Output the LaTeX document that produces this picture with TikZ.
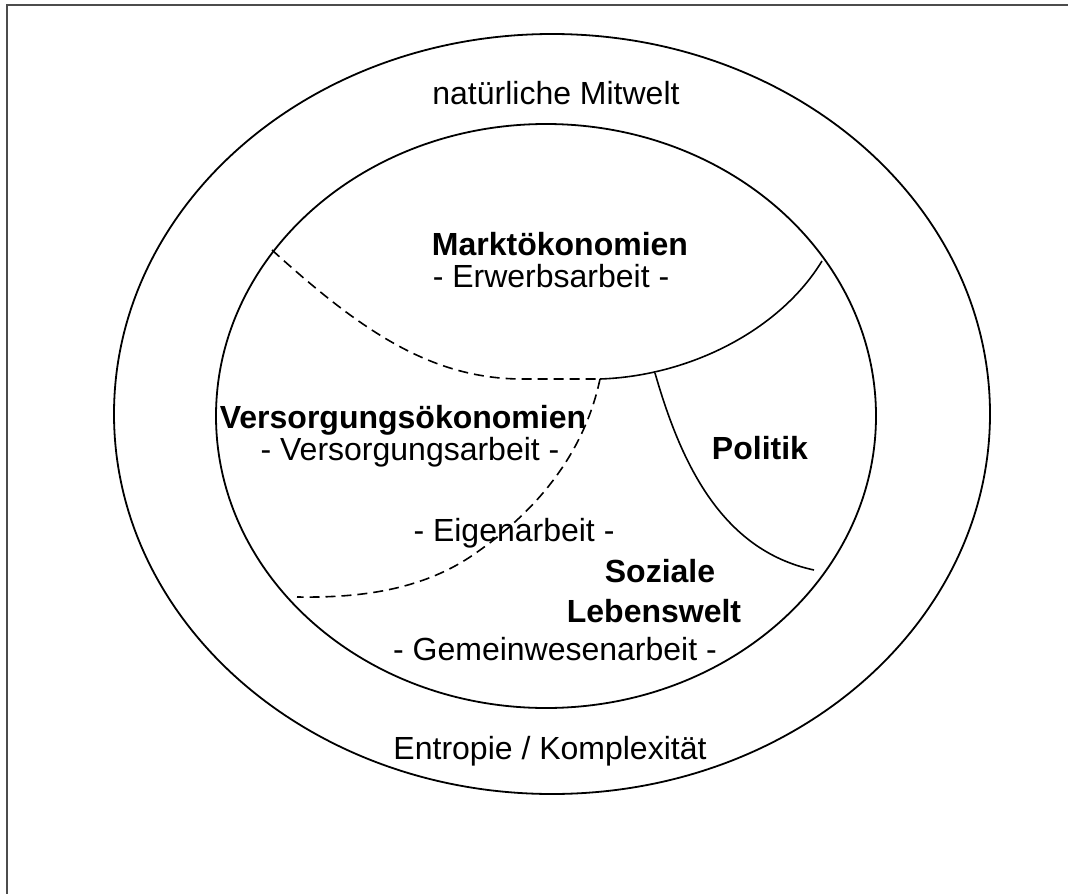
\documentclass[tikz,border=0pt]{standalone}
\usepackage{fontspec}
\setmainfont{Liberation Sans}

\begin{document}
\begin{tikzpicture}[
    x=1bp, y=-1bp,
    % line styles
    frame line/.style={draw=black!70, line width=2bp},
    ring/.style={draw=black, line width=1.8bp},
    hard border/.style={draw=black, line width=1.6bp},
    soft border/.style={
        draw=black, 
        line width=1.6bp,
        dash pattern=on 10bp off 6bp
    },
    % label styles
    area label/.style={
        anchor=base, 
        font=\fontsize{32bp}{38bp}\selectfont\bfseries
    },
    work label/.style={
        anchor=base, 
        font=\fontsize{32bp}{38bp}\selectfont
    }
]

\useasboundingbox (0,0) rectangle (1068,894);

% -------------------------------
% Rahmen
\draw[frame line] (1068,5) -- (7,5) -- (7,894);

% -------------------------------
% Mitwelt und Wirtschaft
\draw[ring] (552,414) ellipse [x radius=438, y radius=380];
\draw[ring] (546,416) ellipse [x radius=330, y radius=292];

% -------------------------------
% Grenzpunkte der Bereiche
\coordinate (dash-left) at (272,250);
\coordinate (junction) at (600,379);
\coordinate (markt-right) at (822,261);
\coordinate (politik-top) at (655,373);
\coordinate (politik-bottom) at (814,570);
\coordinate (eigen-left) at (297,597);

% Grenzen
\draw[soft border] (dash-left) .. controls (360,330) and (430,378) .. (520,379) -- (junction);
\draw[hard border] (junction) .. controls (690,376) and (780,330) .. (markt-right);
\draw[hard border] (politik-top) .. controls (680,460) and (720,550) .. (politik-bottom);
\draw[soft border] (junction) .. controls (585,450) and (540,510) .. (470,557) 
    .. controls (420,590) and (360,598) .. (eigen-left);

% -------------------------------
% Bereiche
\foreach \name/\x/\y/\txt in {markt/560/255/Marktökonomien, 
    versorgung/403/428/Versorgungsökonomien, politik/760/459/Politik, 
    soziale/660/582/Soziale, lebenswelt/654/622/Lebenswelt}
    \node[area label] (\name) at (\x,\y) {\txt};

% Arbeitsformen
\foreach \name/\x/\y/\txt in {erwerb/551/287/{- Erwerbsarbeit -}, 
    versorgungsarbeit/410/460/{- Versorgungsarbeit -}, 
    eigen/514/541/{- Eigenarbeit -}, 
    gemein/555/660/{- Gemeinwesenarbeit -}}
    \node[work label] (\name) at (\x,\y) {\txt};

% Aussenring
\node[work label] (mitwelt) at (556,104) {natürliche Mitwelt};
\node[work label] (entropie) at (550,759) {Entropie / Komplexität};

\end{tikzpicture}
\end{document}
